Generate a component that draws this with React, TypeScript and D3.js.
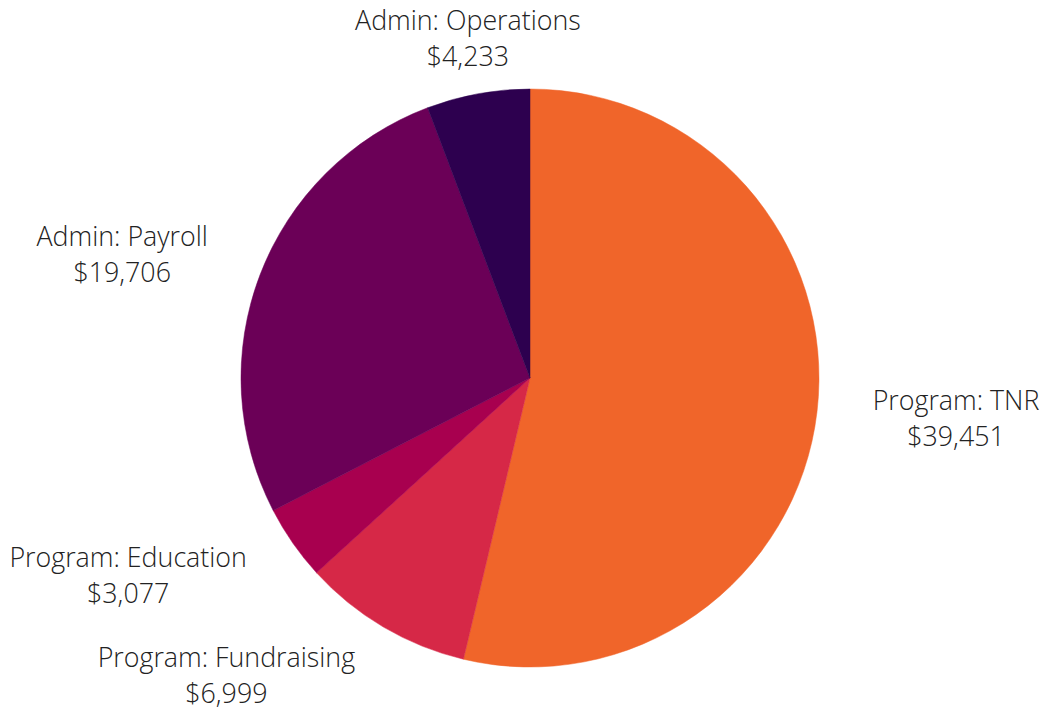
import React from "react";
import * as d3 from "d3";

const categories = ["Program: TNR", "Program: Fundraising", "Program: Education", "Admin: Payroll", "Admin: Operations"];
const values = [39451, 6999, 3077, 19706, 4233];
const colors = ["#F0652A", "#D62847", "#A8004F", "#6B0057", "#2D004F"];

const W = 1048;
const H = 711;
const CX = 530;
const CY = 378;
const R = 289;
const FONT = 26.8;
const LINE = 36;
const FONT_CSS = `300 ${FONT}px 'Open Sans', sans-serif`;

function measure(t: string): number {
  const cv = document.createElement("canvas");
  const ctx = cv.getContext("2d");
  if (!ctx) return t.length * FONT * 0.5;
  ctx.font = FONT_CSS;
  return ctx.measureText(t).width;
}

export default function App() {
  const data = categories.map((c, i) => ({ name: c, value: values[i], color: colors[i] }));
  const pie = d3.pie<any>().value((d) => d.value).sort(null);
  const arcs = pie(data);
  const arcGen = d3.arc<any>().innerRadius(0).outerRadius(R);
  const fmt = d3.format("$,");

  return (
    <svg width={W} height={H} style={{ position: "absolute", left: 0, top: 0 }}>
      <rect width={W} height={H} fill="#ffffff" />
      <g transform={`translate(${CX},${CY})`}>
        {arcs.map((a, i) => (
          <path key={i} d={arcGen(a) as string} fill={a.data.color} stroke={a.data.color} strokeWidth={0.5} />
        ))}
        {arcs.map((a, i) => {
          const mid = (a.startAngle + a.endAngle) / 2;
          const s = Math.sin(mid);
          const c = Math.cos(mid);
          const lr = R + 56;
          const px = s * lr;
          const y = -c * lr;
          const l1 = a.data.name;
          const l2 = fmt(a.data.value);
          const bw = Math.max(measure(l1), measure(l2));
          let x = px;
          if (Math.abs(s) >= 0.3) {
            x = s > 0 ? px + bw / 2 : px - bw / 2;
          }
          const y1 = y - LINE / 2 + FONT * 0.36;
          return (
            <text
              key={"t" + i}
              textAnchor="middle"
              fontFamily="'Open Sans', sans-serif"
              fontWeight={300}
              fontSize={FONT}
              fill="#222222"
            >
              <tspan x={x} y={y1}>{l1}</tspan>
              <tspan x={x} y={y1 + LINE}>{l2}</tspan>
            </text>
          );
        })}
      </g>
    </svg>
  );
}
